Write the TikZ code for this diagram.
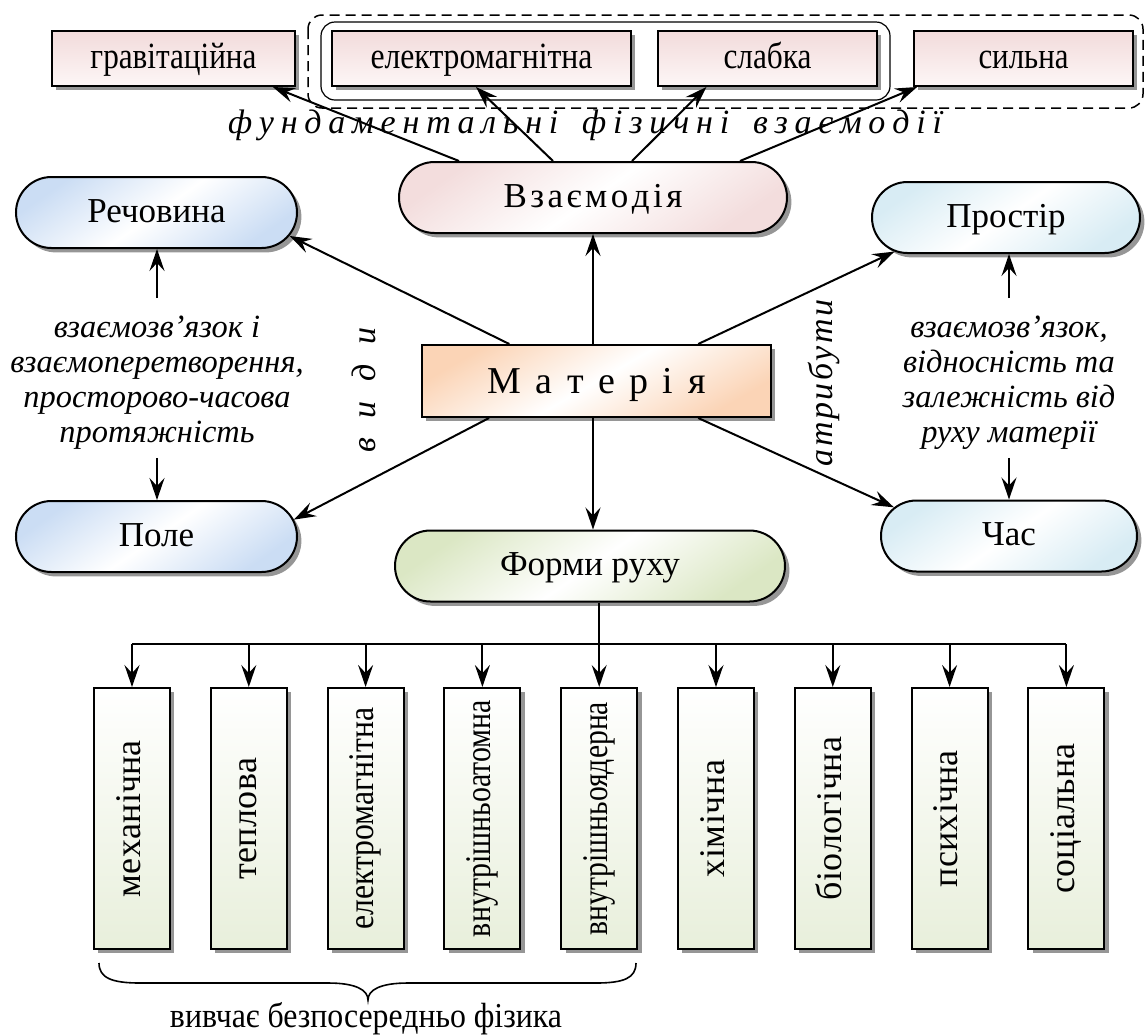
\documentclass[tikz,border=0pt]{standalone}
\usepackage{fontspec}
\setmainfont{Liberation Serif}
\usepackage{graphicx}
\usetikzlibrary{arrows.meta,shapes.misc,shadows,calc}

\makeatletter
\def\sp@aux#1{\ifx#1\relax\else\ifx#1|\hskip 0pt plus 2.5fil\relax\else#1\hskip 0pt plus 1fil\relax\fi\expandafter\sp@aux\fi}
\newcommand\spread[2]{\hbox to #1{\sp@aux#2\relax\unskip}}
\makeatother
\newcommand\fs{\fontsize{17.5pt}{21pt}\selectfont}
\newcommand\fsT{\fontsize{18.5pt}{22pt}\selectfont}
\newcommand\fsB{\fontsize{18pt}{22pt}\selectfont}
\newcommand\fsi{\fontsize{16.2pt}{17.5pt}\selectfont\itshape}
\newcommand\sq[2]{\resizebox{#1}{\height}{#2}}
\newcommand\vt[1]{\rotatebox{90}{\rule[-4pt]{0pt}{16pt}#1}}

\definecolor{pinkT}{RGB}{242,219,219}
\definecolor{pinkB}{RGB}{253,246,246}
\definecolor{pinkE}{RGB}{243,221,221}
\definecolor{blueE}{RGB}{203,221,244}
\definecolor{cyanE}{RGB}{216,236,244}
\definecolor{greenE}{RGB}{219,231,196}
\definecolor{peachE}{RGB}{251,212,182}
\definecolor{greenB}{RGB}{232,239,219}
\definecolor{shad}{RGB}{150,150,150}

\tikzset{
  sh/.style={drop shadow={shadow xshift=2.2pt, shadow yshift=-2.2pt, fill=shad, opacity=1}},
  topbox/.style={draw, line width=1pt, sh, minimum height=27.5pt, inner sep=0pt,
    text height=13pt, text depth=3.5pt, top color=pinkT, bottom color=pinkB, font=\fsT},
  oval/.style={rounded rectangle, draw, line width=1pt, sh, minimum height=35.5pt,
    inner sep=0pt, text height=12.5pt, text depth=3pt, font=\fs},
  ovfill/.style={top color=#1, bottom color=#1, middle color=white, shading angle=35},
  fbox/.style={draw, line width=1pt, sh, minimum width=38pt, minimum height=130.5pt,
    inner sep=0pt, top color=white, bottom color=greenB, font=\fsB},
  itxt/.style={font=\fsi, align=center, inner sep=0pt},
  arr/.style={-{Stealth[length=11pt,width=7.5pt,inset=4pt]}, line width=1pt},
}

\begin{document}
\begin{tikzpicture}[x=0.5pt,y=-0.5pt]
\useasboundingbox (0,0) rectangle (1147,1035);

% group frames
\draw[dashed, dash pattern=on 5pt off 3pt, line width=0.75pt, rounded corners=7pt] (308,15) rectangle (1143,108);
\draw[line width=0.6pt, rounded corners=7pt] (321,22) rectangle (890,100);

% top boxes
\node[topbox, minimum width=121.5pt] (grav) at (173.5,58.5) {\sq{83pt}{гравітаційна}};
\node[topbox, minimum width=149.5pt] (elmag) at (481.5,58.5) {\sq{111pt}{електромагнітна}};
\node[topbox, minimum width=109.5pt] (slab) at (767.5,58.5) {\sq{44pt}{слабка}};
\node[topbox, minimum width=109.5pt] (sil) at (1023.5,58.5) {\sq{45pt}{сильна}};

\node[anchor=base, font=\fontsize{17pt}{20pt}\selectfont\itshape, inner sep=0pt] (fund) at (585,133) {\spread{357pt}{фундаментальні|фізичні|взаємодії}};

% ovals
\node[oval, ovfill=pinkE, minimum width=194pt] (vz) at (593,197.5) {\spread{89.5pt}{Взаємодія}};
\node[oval, ovfill=blueE, minimum width=140.5pt] (rech) at (156.5,212.5) {Речовина};
\node[oval, ovfill=cyanE, minimum width=134pt] (pros) at (1006,217.5) {Простір};
\node[oval, ovfill=blueE, minimum width=140.5pt] (pole) at (156.5,536.5) {Поле};
\node[oval, ovfill=cyanE, minimum width=128pt] (chas) at (1009,536) {Час};
\node[oval, ovfill=greenE, minimum width=195pt] (form) at (590,566) {Форми руху};

% matter
\node[draw, line width=1pt, sh, minimum width=174.5pt, minimum height=36pt, inner sep=0pt,
  top color=peachE, bottom color=peachE, middle color=white, shading angle=30,
  font=\fontsize{19pt}{22pt}\selectfont, text height=13pt, text depth=1pt]
  (mat) at (596.5,381) {\spread{109pt}{Матерія}};

% side texts
\node[itxt, anchor=north] (txtL) at (157,298) {\rule{0pt}{19.5pt}взаємозв’язок і\\взаємоперетворення,\\просторово-часова\\протяжність\rule[-7.5pt]{0pt}{0pt}};
\node[itxt, anchor=north] (txtR) at (1009,298) {\rule{0pt}{19.5pt}взаємозв’язок,\\відносність та\\залежність від\\руху матерії\rule[-7.5pt]{0pt}{0pt}};
\node[font=\fontsize{17pt}{20pt}\selectfont\itshape, rotate=90, inner sep=0pt] (vydy) at (364,390) {\spread{62.5pt}{види}};
\node[font=\fontsize{17pt}{20pt}\selectfont\itshape, rotate=90, inner sep=0pt] (atr) at (824,383) {\spread{83.5pt}{атрибути}};

% bottom boxes
\node[fbox] (b1) at (132,818.5) {\vt{\spread{78.5pt}{механічна}}};
\node[fbox] (b2) at (248.8,818.5) {\vt{\spread{61pt}{теплова}}};
\node[fbox] (b3) at (365.6,818.5) {\vt{\sq{111pt}{електромагнітна}}};
\node[fbox] (b4) at (482.4,818.5) {\vt{\sq{118.5pt}{внутрішньоатомна}}};
\node[fbox] (b5) at (599.2,818.5) {\vt{\sq{116.5pt}{внутрішньоядерна}}};
\node[fbox] (b6) at (716,818.5) {\vt{\spread{58.5pt}{хімічна}}};
\node[fbox] (b7) at (832.8,818.5) {\vt{\spread{81.5pt}{біологічна}}};
\node[fbox] (b8) at (949.6,818.5) {\vt{\spread{68.5pt}{психічна}}};
\node[fbox] (b9) at (1066.4,818.5) {\vt{\spread{75pt}{соціальна}}};

\node[anchor=base, font=\fontsize{17.5pt}{20pt}\selectfont, inner sep=0pt] (fiz) at (366,1027) {\sq{196pt}{вивчає безпосередньо фізика}};

% connectors from Взаємодія
\draw[arr] ($(vz.north)+(-134,0)$) -- (grav.344);
\draw[arr] ($(vz.north)+(-40,0)$) -- (elmag.259);
\draw[arr] ($(vz.north)+(39,0)$) -- (slab.205);
\draw[arr] ($(vz.north)+(147,0)$) -- (sil.195);

% connectors from Матерія
\draw[arr] (mat.157) -- (rech.350);
\draw[arr] (mat.199) -- (pole.7);
\draw[arr] (mat.20) -- (pros.197);
\draw[arr] (mat.340) -- (chas.166);
\draw[arr] (vz.south |- mat.north) -- (vz.south);
\draw[arr] (mat.south -| vz.south) -- (form.north -| vz.south);

% side text arrows
\draw[arr] (txtL.north) -- (txtL.north |- rech.south);
\draw[arr] (txtL.south) -- (txtL.south |- pole.north);
\draw[arr] (txtR.north) -- (txtR.north |- pros.south);
\draw[arr] (txtR.south) -- (txtR.south |- chas.north);

% forms of motion
\coordinate (bus) at (0,644);
\draw[line width=1pt] (bus -| b1.north) -- (bus -| b9.north);
\draw[arr] (form.south -| b5.north) -- (b5.north);
\foreach \i in {1,2,3,4,6,7,8,9} \draw[arr] (bus -| b\i.north) -- (b\i.north);

% brace
\draw[line width=0.8pt] (99,963) .. controls (99,978) and (112,983) .. (140,983)
  -- (328,983) .. controls (356,983) and (368,990) .. (368,1000)
  .. controls (368,990) and (380,983) .. (408,983)
  -- (596,983) .. controls (624,983) and (636,978) .. (636,963);
\end{tikzpicture}
\end{document}
